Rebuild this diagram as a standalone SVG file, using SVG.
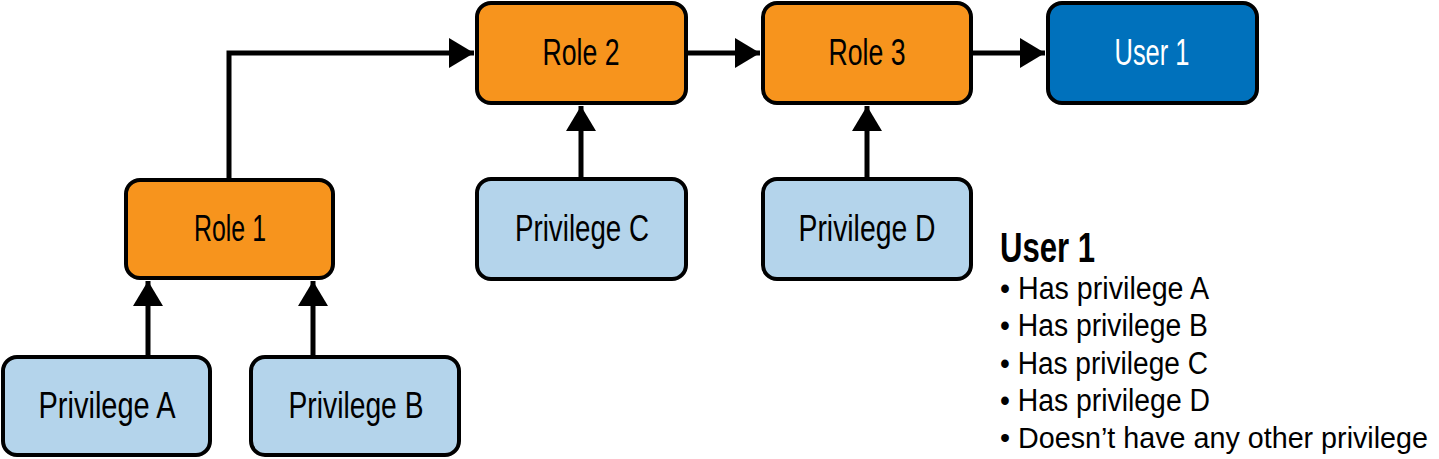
<svg xmlns="http://www.w3.org/2000/svg" width="1439" height="459" viewBox="0 0 1439 459">
<style>
.box{stroke:#000;stroke-width:4}
.role{fill:#F7941D}
.priv{fill:#B4D4EB}
.user{fill:#0071BC}
.t{font-family:"Liberation Sans Narrow","Liberation Sans",Arial,sans-serif;font-size:36px;text-anchor:middle;fill:#000}
.tw{fill:#fff}
.edge{fill:none;stroke:#000;stroke-width:5}
.leg{font-family:"Liberation Sans Narrow","Liberation Sans",Arial,sans-serif;font-size:31px;fill:#000}
.legh{font-family:"Liberation Sans Narrow","Liberation Sans",Arial,sans-serif;font-size:42px;font-weight:bold;fill:#000}
</style>
<defs>
<marker id="ah" viewBox="0 0 25 30" refX="25" refY="15" markerWidth="25" markerHeight="30" markerUnits="userSpaceOnUse" orient="auto">
<path d="M0,0 L25,15 L0,30 Z" fill="#000"/>
</marker>
</defs>
<g id="connectors">
<path class="edge" d="M148,356 V281" marker-end="url(#ah)"/>
<path class="edge" d="M313,356 V281" marker-end="url(#ah)"/>
<path class="edge" d="M229,179 V53 H474" marker-end="url(#ah)"/>
<path class="edge" d="M581,178 V106" marker-end="url(#ah)"/>
<path class="edge" d="M867,178 V106" marker-end="url(#ah)"/>
<path class="edge" d="M687,53 H760" marker-end="url(#ah)"/>
<path class="edge" d="M972,53 H1045" marker-end="url(#ah)"/>
</g>
<g id="role1"><rect class="box role" x="126" y="180" width="207" height="98" rx="14"/><text class="t" x="230" y="241" textLength="72" lengthAdjust="spacingAndGlyphs">Role 1</text></g>
<g id="role2"><rect class="box role" x="477" y="3" width="209" height="100" rx="14"/><text class="t" x="581" y="65" textLength="77" lengthAdjust="spacingAndGlyphs">Role 2</text></g>
<g id="role3"><rect class="box role" x="763" y="3" width="208" height="100" rx="14"/><text class="t" x="867" y="65" textLength="77" lengthAdjust="spacingAndGlyphs">Role 3</text></g>
<g id="user1"><rect class="box user" x="1048" y="3" width="209" height="100" rx="14"/><text class="t tw" x="1152" y="65" textLength="75" lengthAdjust="spacingAndGlyphs">User 1</text></g>
<g id="privA"><rect class="box priv" x="3" y="357" width="207" height="98" rx="14"/><text class="t" x="107" y="418" textLength="137" lengthAdjust="spacingAndGlyphs">Privilege A</text></g>
<g id="privB"><rect class="box priv" x="251" y="357" width="208" height="98" rx="14"/><text class="t" x="356" y="418" textLength="135" lengthAdjust="spacingAndGlyphs">Privilege B</text></g>
<g id="privC"><rect class="box priv" x="477" y="179" width="209" height="100" rx="14"/><text class="t" x="582" y="241" textLength="134" lengthAdjust="spacingAndGlyphs">Privilege C</text></g>
<g id="privD"><rect class="box priv" x="763" y="179" width="208" height="100" rx="14"/><text class="t" x="867" y="241" textLength="137" lengthAdjust="spacingAndGlyphs">Privilege D</text></g>
<g id="legend">
<text class="legh" x="1000" y="262" textLength="95" lengthAdjust="spacingAndGlyphs">User 1</text>
<text class="leg" x="1000" y="299" textLength="209" lengthAdjust="spacingAndGlyphs">• Has privilege A</text>
<text class="leg" x="1000" y="336" textLength="208" lengthAdjust="spacingAndGlyphs">• Has privilege B</text>
<text class="leg" x="1000" y="374" textLength="208" lengthAdjust="spacingAndGlyphs">• Has privilege C</text>
<text class="leg" x="1000" y="411" textLength="210" lengthAdjust="spacingAndGlyphs">• Has privilege D</text>
<text class="leg" x="1000" y="448" style="font-size:29px" textLength="428" lengthAdjust="spacingAndGlyphs">• Doesn’t have any other privilege</text>
</g>
</svg>
